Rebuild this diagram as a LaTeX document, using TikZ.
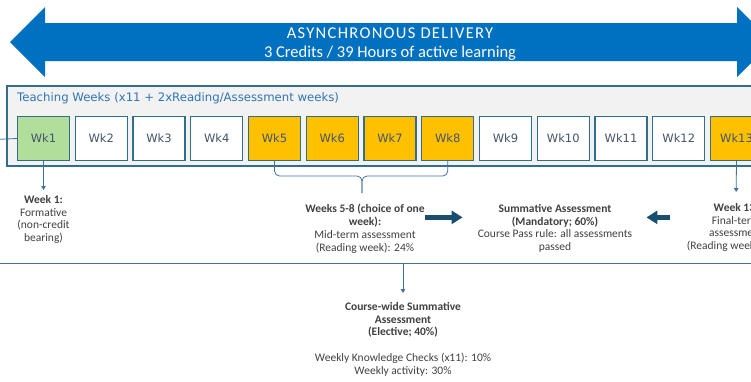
\documentclass[tikz,border=0pt]{standalone}
\usepackage{fontspec}
\setmainfont{Carlito}
\newfontfamily\boxfont{DejaVu Sans}
\usetikzlibrary{arrows.meta}

\definecolor{delivblue}{RGB}{0,112,192}
\definecolor{boxline}{RGB}{49,110,140}
\definecolor{panelgray}{RGB}{242,242,242}
\definecolor{titleblue}{RGB}{46,117,182}
\definecolor{wktext}{RGB}{68,84,106}
\definecolor{wkgreen}{RGB}{178,222,156}
\definecolor{wkorange}{RGB}{255,192,0}
\definecolor{connline}{RGB}{65,113,156}
\definecolor{fatblue}{RGB}{26,78,110}
\definecolor{notetext}{RGB}{64,64,64}

\begin{document}
\begin{tikzpicture}[x=1pt, y=-1pt,
    wkbox/.style={draw=boxline, line width=1.3pt, fill=white, minimum width=52, minimum height=44,
      inner sep=0, text=wktext, font=\boxfont\fontsize{11.5}{13}\selectfont},
    greenwk/.style={wkbox, fill=wkgreen},
    orangewk/.style={wkbox, fill=wkorange},
    note/.style={align=center, inner sep=0, anchor=north, text=notetext,
      font=\fontsize{11.5}{12.8}\selectfont},
    conn/.style={draw=connline, line width=0.8pt},
    connarrow/.style={conn, -{Triangle[length=4pt,width=4.5pt]}},
    fatarrow/.style={draw=fatblue, line width=5pt, -{Triangle[length=11pt,width=13pt]}}]
  \useasboundingbox (0,0) rectangle (751,381);
  \clip (0,0) rectangle (751,381);

      %%delivery arrow
      \fill[delivblue](10, 42) -- (45, 7) -- (45, 23) -- (737, 23) -- (737, 7) -- (772, 42)
        -- (737, 77) -- (737, 61) -- (45, 61) -- (45, 77) -- cycle;
      \node[text=white, align=center, font=\fontsize{16.5}{19}\selectfont] (deliv) at (390, 44.5)
        {\addfontfeature{LetterSpace=8}ASYNCHRONOUS DELIVERY\\3 Credits / 39 Hours of active learning};

      %%teaching weeks panel
      \draw[draw=boxline, fill=panelgray, line width=1.3pt](7, 86) rectangle (800, 166);
      \node[anchor=west, inner sep=0, text=titleblue, font=\boxfont\fontsize{11.7}{13}\selectfont]
        (teachtitle) at (17, 98) {Teaching Weeks (x11 + 2xReading/Assessment weeks)};

        %%week boxes
        \node[greenwk] (wk1) at (43.5, 138.5) {Wk1};
        \node[wkbox] (wk2) at (101.25, 138.5) {Wk2};
        \node[wkbox] (wk3) at (159, 138.5) {Wk3};
        \node[wkbox] (wk4) at (216.75, 138.5) {Wk4};
        \node[orangewk] (wk5) at (274.5, 138.5) {Wk5};
        \node[orangewk] (wk6) at (332.25, 138.5) {Wk6};
        \node[orangewk] (wk7) at (390, 138.5) {Wk7};
        \node[orangewk] (wk8) at (447.75, 138.5) {Wk8};
        \node[wkbox] (wk9) at (505.5, 138.5) {Wk9};
        \node[wkbox] (wk10) at (563.25, 138.5) {Wk10};
        \node[wkbox] (wk11) at (621, 138.5) {Wk11};
        \node[wkbox] (wk12) at (678.75, 138.5) {Wk12};
        \node[orangewk] (wk13) at (736.5, 138.5) {Wk13};

      %%line in from the left
      \coordinate (leftin) at (-5, 139.5);
      \draw[conn](leftin) -- (wk1.west);

      %%week notes
      \node[note] (w1note) at (43.5, 195) {\bfseries Week 1:\\Formative\\(non-credit\\bearing)};
      \draw[connarrow, shorten >=5pt](wk1.south) -- (w1note.north);

      \node[note] (midnote) at (365, 204) {\bfseries Weeks 5-8 (choice of one\\\bfseries week):\\
        Mid-term assessment\\(Reading week): 24\%};
      \coordinate (bracemid) at (362, 176);
      \coordinate (bracetip) at (362, 193);
      \draw[conn, rounded corners=5pt](wk5.south) |- (bracemid) -- (bracetip);
      \draw[conn, rounded corners=5pt](wk8.south) |- (bracemid) -- (bracetip);

      \node[note] (mandnote) at (555, 204) {\bfseries Summative Assessment\\\bfseries (Mandatory; 60\%)\\
        Course Pass rule: all assessments\\passed};

      \node[note] (w13note) at (736, 203) {\bfseries Week 13:\\Final-term\\assessment\\(Reading week): 36\%};
      \draw[connarrow, shorten >=11pt](wk13.south) -- (w13note.north);

        %%fat arrows into the summative note
        \draw[fatarrow, shorten >=15pt]([yshift=11pt]mandnote.west -| midnote.east) -- ([yshift=11pt]mandnote.west);
        \draw[fatarrow, shorten <=17pt, shorten >=14pt]([yshift=11pt]mandnote.east -| w13note.west) -- ([yshift=11pt]mandnote.east);

      %%course-wide line
      \coordinate (rowleft) at (-5, 263);
      \coordinate (rowright) at (760, 263);
      \coordinate (cwtop) at (403, 263);
      \draw[conn](rowleft) -- (rowright);

      \node[note] (cwnote) at (403, 302) {\bfseries Course-wide Summative\\\bfseries Assessment\\
        \bfseries (Elective; 40\%)\\[13pt]Weekly Knowledge Checks (x11): 10\%\\Weekly activity: 30\%};
      \draw[connarrow, shorten >=9pt](cwtop) -- (cwnote.north);

\end{tikzpicture}
\end{document}
